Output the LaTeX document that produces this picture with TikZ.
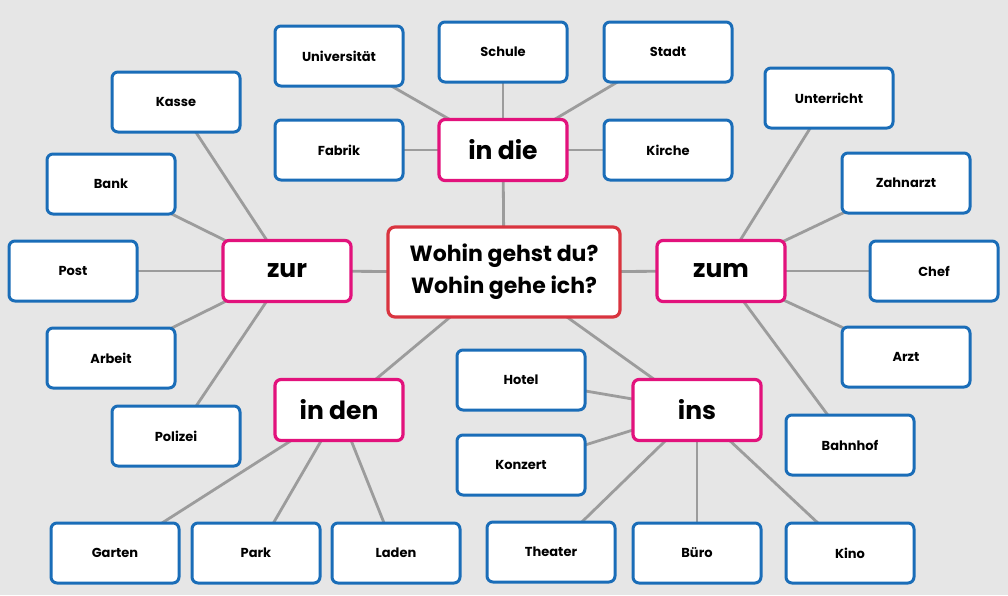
\documentclass[tikz,border=0pt]{standalone}
\usepackage{fontspec}
\setmainfont{Poppins}
\usetikzlibrary{backgrounds}
\definecolor{bg}{HTML}{E6E6E6}
\definecolor{leafblue}{HTML}{1A6DB8}
\definecolor{hubpink}{HTML}{E2127C}
\definecolor{mainred}{HTML}{D9343F}
\definecolor{linkgray}{HTML}{9C9C9C}
\tikzset{
  leaf/.style={draw=leafblue, line width=3pt, fill=white, rounded corners=6pt,
    minimum width=128pt, minimum height=60pt, inner sep=0pt,
    font=\fontsize{13}{15}\selectfont\bfseries},
  hub/.style={draw=hubpink, line width=3.2pt, fill=white, rounded corners=6pt,
    minimum width=128pt, minimum height=61pt, inner sep=0pt,
    font=\fontsize{25}{28}\selectfont\bfseries},
  mainbox/.style={draw=mainred, line width=3.2pt, fill=white, rounded corners=7pt,
    minimum width=232pt, minimum height=90pt, inner sep=0pt, align=center,
    font=\fontsize{22}{32}\selectfont\bfseries},
  link/.style={draw=linkgray, line width=2.8pt}
}
\begin{document}
\begin{tikzpicture}[x=1pt,y=-1pt]
\useasboundingbox (0,0) rectangle (1008,595);
% main and hubs
\node[mainbox] (m) at (504,272) {Wohin gehst du?\\Wohin gehe ich?};
\node[hub] (indie) at (503,150) {in die};
\node[hub] (zur) at (287,271) {zur};
\node[hub] (zum) at (721,271) {zum};
\node[hub] (inden) at (339,410) {in den};
\node[hub] (ins) at (697,410) {ins};
% leaves
\node[leaf] (uni) at (339,56) {Universität};
\node[leaf] (schule) at (503,52) {Schule};
\node[leaf] (stadt) at (668,52) {Stadt};
\node[leaf] (fabrik) at (339,150) {Fabrik};
\node[leaf] (kirche) at (668,150) {Kirche};
\node[leaf] (kasse) at (176,102) {Kasse};
\node[leaf] (bank) at (111,184) {Bank};
\node[leaf] (post) at (73,271) {Post};
\node[leaf] (arbeit) at (111,358) {Arbeit};
\node[leaf] (polizei) at (176,436) {Polizei};
\node[leaf] (unterricht) at (829,98) {Unterricht};
\node[leaf] (zahnarzt) at (906,183) {Zahnarzt};
\node[leaf] (chef) at (934,271) {Chef};
\node[leaf] (arzt) at (906,357) {Arzt};
\node[leaf] (bahnhof) at (850,445) {Bahnhof};
\node[leaf] (hotel) at (521,380) {Hotel};
\node[leaf] (konzert) at (521,465) {Konzert};
\node[leaf] (garten) at (115,553) {Garten};
\node[leaf] (park) at (256,553) {Park};
\node[leaf] (laden) at (396,553) {Laden};
\node[leaf] (theater) at (551,552) {Theater};
\node[leaf] (buero) at (697,553) {Büro};
\node[leaf] (kino) at (850,553) {Kino};
\begin{scope}[on background layer]
\fill[bg] (0,0) rectangle (1008,595);
\foreach \h in {indie,zur,zum,inden,ins} \draw[link] (m.center) -- (\h.center);
\foreach \l in {uni,schule,stadt,fabrik,kirche} \draw[link] (indie.center) -- (\l.center);
\foreach \l in {kasse,bank,post,arbeit,polizei} \draw[link] (zur.center) -- (\l.center);
\foreach \l in {unterricht,zahnarzt,chef,arzt,bahnhof} \draw[link] (zum.center) -- (\l.center);
\foreach \l in {garten,park,laden} \draw[link] (inden.center) -- (\l.center);
\foreach \l in {hotel,konzert,theater,buero,kino} \draw[link] (ins.center) -- (\l.center);
\end{scope}
\end{tikzpicture}
\end{document}
